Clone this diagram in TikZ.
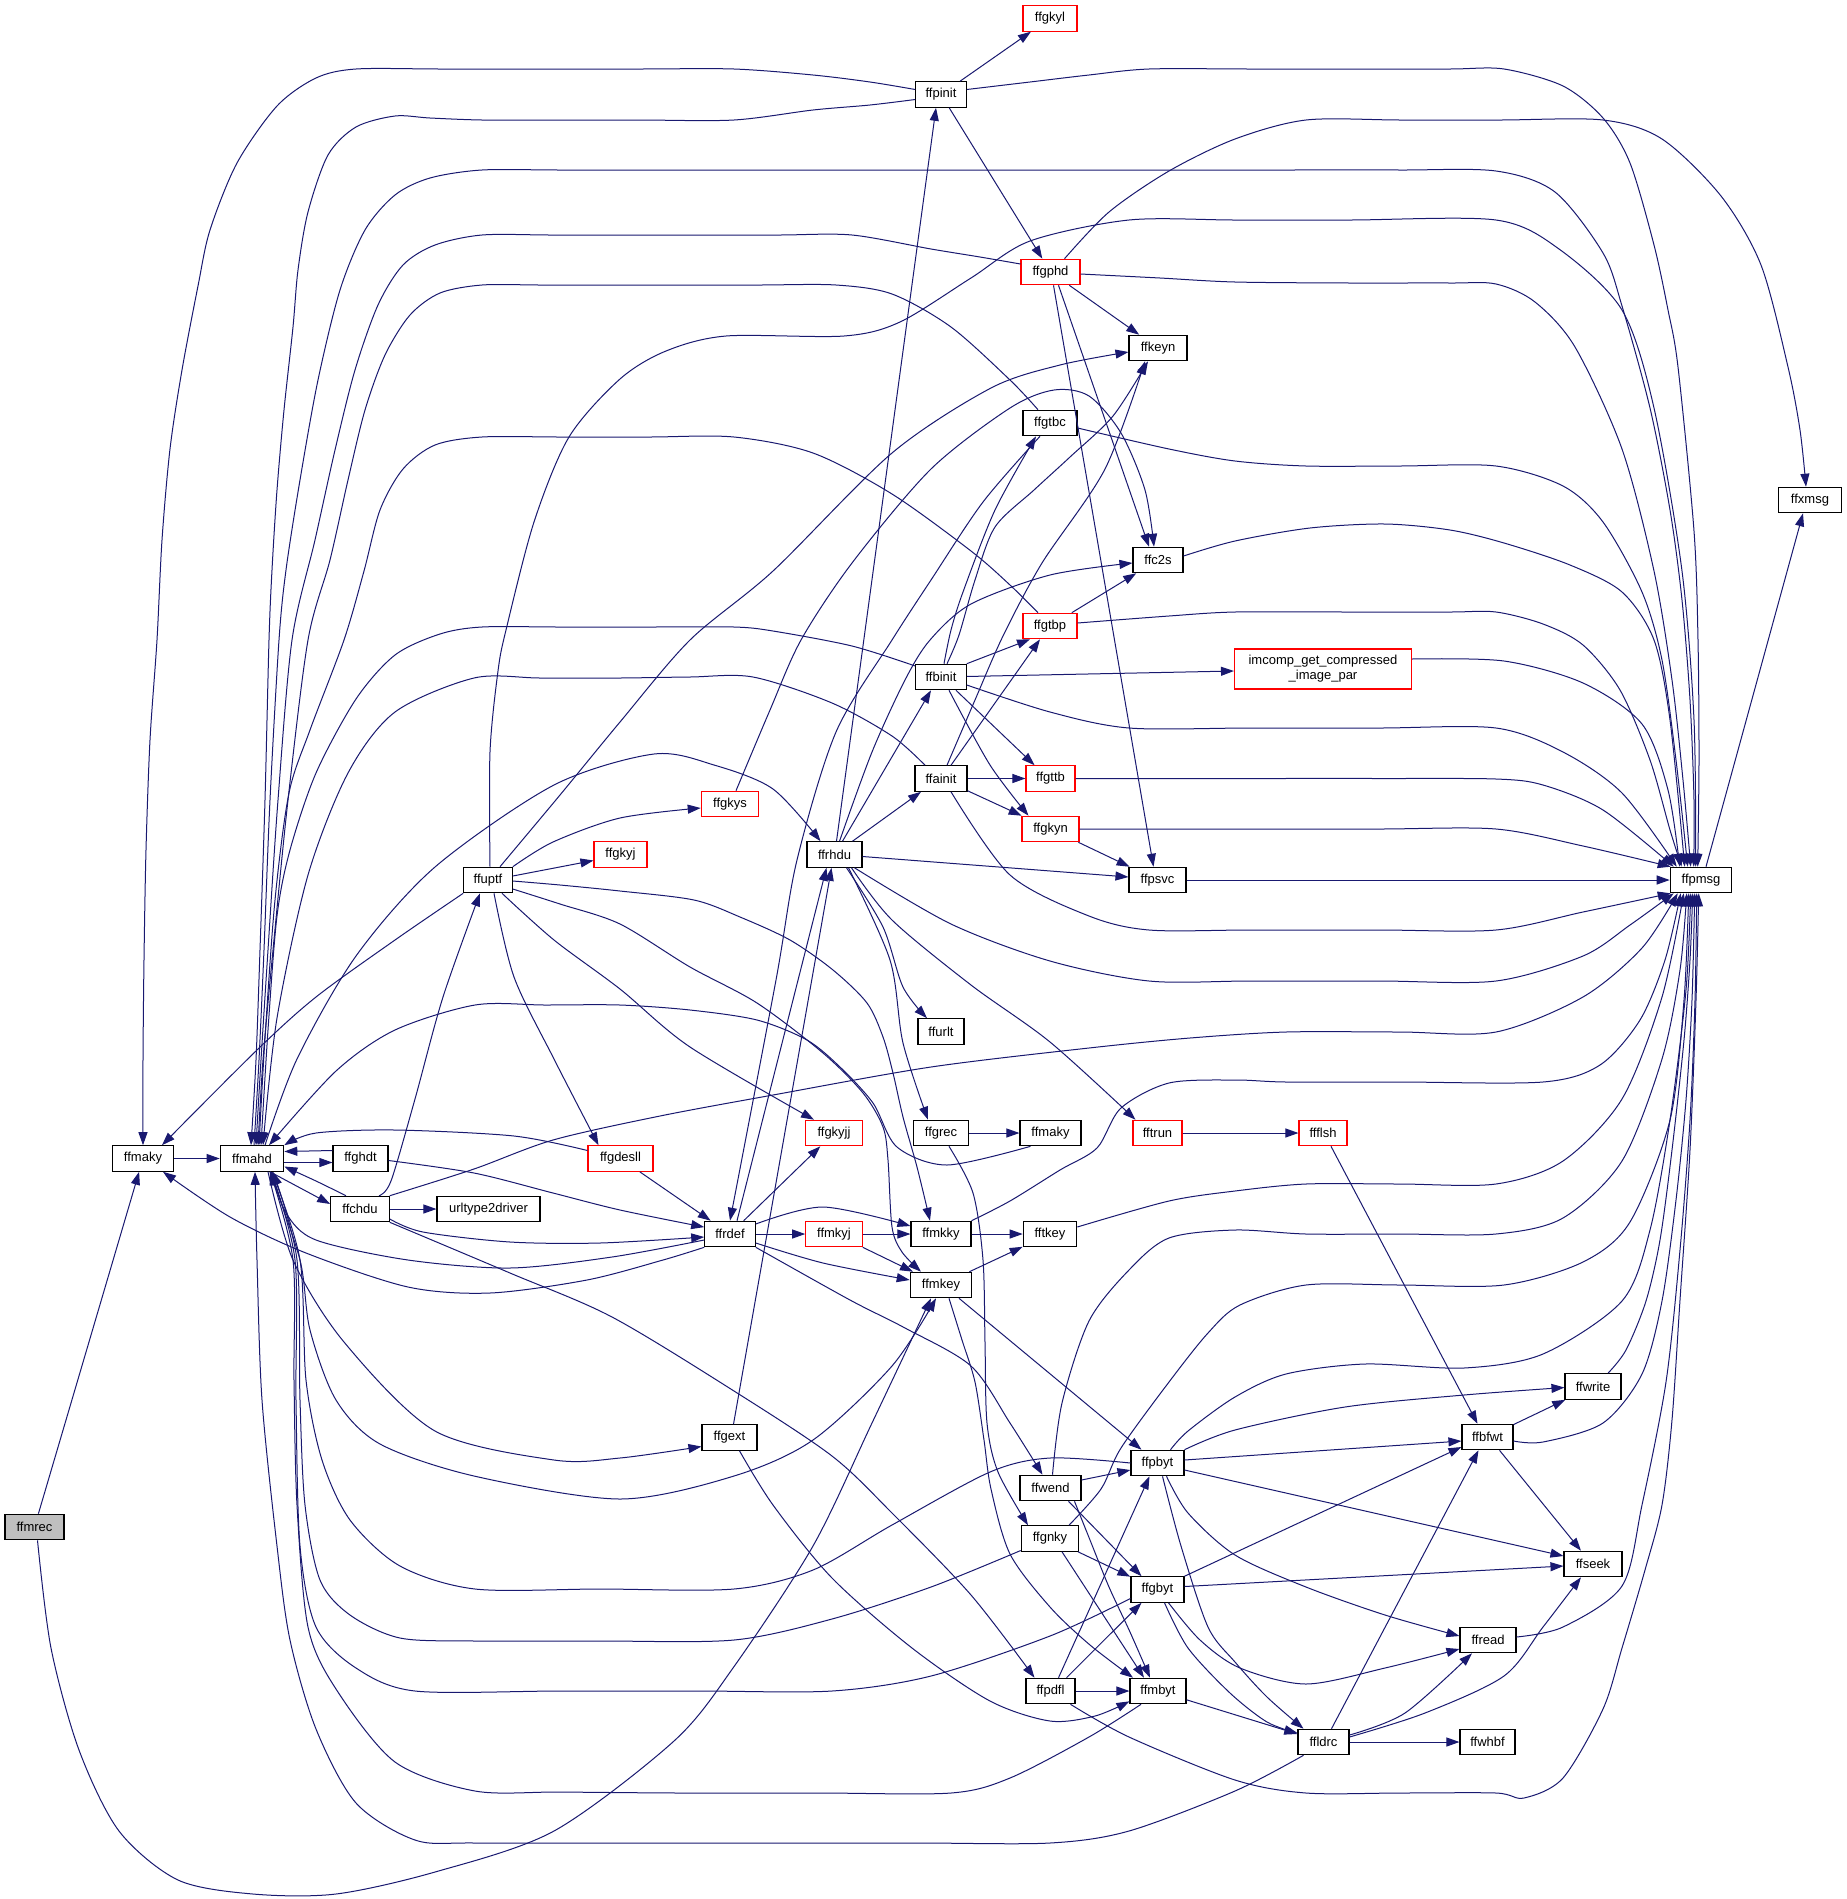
\documentclass[tikz,border=0pt]{standalone}
\usepackage{fontspec}
\setmainfont{Liberation Sans}[Ligatures=CommonOff]
\usetikzlibrary{arrows.meta}
\definecolor{edgec}{HTML}{191970}
\definecolor{nred}{HTML}{FF0000}
\definecolor{ngray}{HTML}{BFBFBF}
\tikzset{
  box/.style={draw=black, line width=1.1pt, fill=white, minimum height=25.5pt, inner sep=0pt, font=\fontsize{13pt}{15pt}\selectfont, text=black},
  rbox/.style={box, draw=nred},
  gbox/.style={box, fill=ngray},
  e/.style={draw=edgec, line width=1.0pt, -{Triangle[length=13pt,width=9pt]}}
}
\newcommand{\edgeP}[1]{\draw[e] plot[smooth, tension=0.5] coordinates {#1};}
\begin{document}
\begin{tikzpicture}[x=1pt,y=1pt]
\fill[white] (0,0) rectangle (1847,-1899);
\useasboundingbox (0,0) rectangle (1847,-1899);
% nodes
\node[gbox, minimum width=59pt] (ffmrec) at (34.5,-1527) {ffmrec};
\node[box, minimum width=61.5pt] (ffmaky) at (143,-1158.5) {ffmaky};
\node[box, minimum width=63.5pt] (ffmahd) at (252,-1158.5) {ffmahd};
\node[box, minimum width=55pt] (ffghdt) at (360.5,-1158.5) {ffghdt};
\node[box, minimum width=58.5pt] (ffchdu) at (360,-1209) {ffchdu};
\node[box, minimum width=103pt] (urltype2driver) at (488.5,-1209) {urltype2driver};
\node[box, minimum width=48.5pt] (ffuptf) at (488,-880) {ffuptf};
\node[rbox, minimum width=65pt] (ffgdesll) at (620.5,-1158.5) {ffgdesll};
\node[rbox, minimum width=53pt] (ffgkyj) at (620.5,-854.5) {ffgkyj};
\node[box, minimum width=50.5pt] (ffrdef) at (730,-1234) {ffrdef};
\node[rbox, minimum width=57.5pt] (ffgkys) at (730,-804) {ffgkys};
\node[box, minimum width=55pt] (ffgext) at (729.5,-1437.5) {ffgext};
\node[box, minimum width=55pt] (ffrhdu) at (834.5,-854.5) {ffrhdu};
\node[rbox, minimum width=56.5pt] (ffgkyjj) at (834,-1133) {ffgkyjj};
\node[rbox, minimum width=56.5pt] (ffmkyj) at (834,-1234) {ffmkyj};
\node[box, minimum width=50.5pt] (ffpinit) at (941,-94.5) {ffpinit};
\node[box, minimum width=50.5pt] (ffbinit) at (941,-677) {ffbinit};
\node[box, minimum width=52pt] (ffainit) at (941,-778.5) {ffainit};
\node[box, minimum width=46pt] (ffurlt) at (941,-1031.5) {ffurlt};
\node[box, minimum width=54.5pt] (ffgrec) at (941,-1133) {ffgrec};
\node[box, minimum width=60pt] (ffmkky) at (941,-1234) {ffmkky};
\node[box, minimum width=61.5pt] (ffmkey) at (941,-1285) {ffmkey};
\node[rbox, minimum width=54pt] (ffgkyl) at (1050,-18.4) {ffgkyl};
\node[rbox, minimum width=59pt] (ffgphd) at (1050.5,-272) {ffgphd};
\node[box, minimum width=54pt] (ffgtbc) at (1050,-423) {ffgtbc};
\node[rbox, minimum width=54pt] (ffgtbp) at (1050,-626) {ffgtbp};
\node[rbox, minimum width=49pt] (ffgttb) at (1050.5,-778.5) {ffgttb};
\node[rbox, minimum width=57pt] (ffgkyn) at (1050.5,-829) {ffgkyn};
\node[box, minimum width=61pt] (ffmakyB) at (1050.5,-1133) {ffmaky};
\node[box, minimum width=53.5pt] (fftkey) at (1050,-1234) {fftkey};
\node[box, minimum width=61pt] (ffwend) at (1050.5,-1488) {ffwend};
\node[box, minimum width=57.5pt] (ffgnky) at (1050,-1538.5) {ffgnky};
\node[box, minimum width=49pt] (ffpdfl) at (1050.5,-1691) {ffpdfl};
\node[box, minimum width=58pt] (ffkeyn) at (1158,-348) {ffkeyn};
\node[box, minimum width=50pt] (ffc2s) at (1158,-560) {ffc2s};
\node[box, minimum width=57pt] (ffpsvc) at (1157.5,-880) {ffpsvc};
\node[rbox, minimum width=49pt] (fftrun) at (1157.5,-1133) {fftrun};
\node[box, minimum width=53pt] (ffpbyt) at (1157.5,-1463) {ffpbyt};
\node[box, minimum width=53pt] (ffgbyt) at (1157.5,-1589.5) {ffgbyt};
\node[box, minimum width=56pt] (ffmbyt) at (1158,-1691) {ffmbyt};
\node[rbox, minimum width=177pt, minimum height=40pt, align=center] (imcomp) at (1323,-669) {imcomp\_get\_compressed\\\_image\_par};
\node[rbox, minimum width=48pt] (ffflsh) at (1323,-1133) {ffflsh};
\node[box, minimum width=51pt] (ffldrc) at (1323.5,-1742) {ffldrc};
\node[box, minimum width=51pt] (ffbfwt) at (1487.5,-1437) {ffbfwt};
\node[box, minimum width=56pt] (ffread) at (1488,-1640) {ffread};
\node[box, minimum width=55pt] (ffwhbf) at (1487.5,-1742) {ffwhbf};
\node[box, minimum width=56pt] (ffwrite) at (1593,-1386.5) {ffwrite};
\node[box, minimum width=58pt] (ffseek) at (1593,-1564) {ffseek};
\node[box, minimum width=61.5pt] (ffpmsg) at (1701,-880) {ffpmsg};
\node[box, minimum width=62.5pt] (ffxmsg) at (1810,-500) {ffxmsg};

% ---- edges ----
% ffmrec
\draw[e] (ffmrec) -- (ffmaky);
\edgeP{([xshift=3pt]ffmrec.south) (51,-1648) (79,-1750) (119,-1831) (178,-1880) (253,-1894) (336,-1894) (435,-1872) (554,-1831) (674,-1741) (733,-1668) (813,-1546) (872,-1423) ([xshift=-10pt]ffmkey.south)}
\draw[e] (ffmaky) -- (ffmahd);
% ffmahd / ffghdt / ffchdu
\draw[e] ([yshift=-4pt]ffmahd.east) -- ([yshift=-4pt]ffghdt.west);
\draw[e] ([yshift=8pt]ffghdt.west) -- ([yshift=7pt]ffmahd.east);
\draw[e] ([xshift=18pt]ffmahd.south) -- ([yshift=5pt]ffchdu.west);
\edgeP{([xshift=-14pt]ffchdu.north) (316,-1181) ([yshift=-8pt]ffmahd.east)}
\draw[e] (ffchdu) -- (urltype2driver);
\edgeP{([xshift=19pt]ffchdu.north) (391,-1181) (415,-1099) (443,-997) ([xshift=-8pt]ffuptf.south)}
\edgeP{([yshift=-10pt]ffchdu.east) (423,-1232) (510,-1242) (600,-1243) ([yshift=-3pt]ffrdef.west)}
\edgeP{(ffchdu.north east) (474,-1169) (553,-1140) (660,-1116) (773,-1095) (931,-1067) (1089,-1048) (1190,-1038) (1286,-1032) (1400,-1032) (1496,-1032) (1583,-997) (1642,-948) ([xshift=8pt]ffpmsg.south west)}
\edgeP{(ffchdu.south east) (510,-1273) (612,-1317) (734,-1391) (832,-1456) (892,-1513) (971,-1595) ([xshift=-16pt]ffpdfl.north)}
\edgeP{([yshift=-2pt]ffghdt.east) (474,-1173) (553,-1193) (620,-1210) (ffrdef.165)}
% ffgdesll
\edgeP{([yshift=8pt]ffgdesll.west) (514,-1136) (395,-1130) (316,-1133) (ffmahd.north east)}
\draw[e] (ffgdesll) -- (ffrdef);
% ffrdef
\edgeP{([yshift=-6pt]ffrdef.west) (612,-1257) (510,-1268) (408,-1260) (316,-1240) (286,-1213) ([xshift=20pt]ffmahd.south)}
\edgeP{(ffrdef.south west) (663,-1260) (587,-1280) (490,-1293) (408,-1287) (306,-1253) (230,-1217) ([xshift=20pt]ffmaky.south)}
\draw[e] ([xshift=7pt]ffrdef.north) -- ([xshift=-8pt]ffrhdu.south);
\draw[e] ([xshift=4pt]ffgext.north) -- ([xshift=-3pt]ffrhdu.south);
\edgeP{([xshift=-10pt]ffgtbc.south) (983,-502) (931,-580) (892,-640) (836,-732) (797,-860) (776,-980) (ffrdef.north)}
\draw[e] (ffrdef) -- (ffgkyjj);
\draw[e] (ffrdef) -- (ffmkyj);
\edgeP{([yshift=10pt]ffrdef.east) (823,-1207) ([yshift=8pt]ffmkky.west)}
\edgeP{([yshift=-9pt]ffrdef.east) (823,-1263) ([yshift=5pt]ffmkey.west)}
\edgeP{(ffrdef.south east) (850,-1300) (905,-1328) (971,-1366) (1010,-1423) ([xshift=-8pt]ffwend.north)}
% ffgext
\edgeP{([xshift=10pt]ffgext.south) (773,-1505) (832,-1578) (912,-1648) (990,-1701) (1050,-1721) (1095,-1716) ([yshift=3pt]ffmbyt.south west)}
% ffmahd bottom
\edgeP{([xshift=16pt]ffmahd.south) (293,-1260) (344,-1342) (435,-1431) (554,-1460) (620,-1458) ([yshift=-9pt]ffgext.west)}
\edgeP{([xshift=18pt]ffmahd.south) (300,-1260) (310,-1330) (336,-1400) (380,-1444) (474,-1476) (620,-1499) (734,-1476) (813,-1440) (892,-1366) ([xshift=-5pt]ffmkey.south)}
\edgeP{(ffpbyt.west) (1050,-1458) (990,-1472) (892,-1525) (813,-1570) (734,-1589) (600,-1589) (475,-1589) (400,-1566) (350,-1520) (322,-1460) (306,-1380) (300,-1260) ([xshift=20pt]ffmahd.south)}
\edgeP{([yshift=-12pt]ffgnky.west) (931,-1587) (832,-1619) (734,-1640) (600,-1641) (475,-1641) (400,-1638) (350,-1615) (320,-1580) (305,-1505) (300,-1400) (297,-1260) ([xshift=21pt]ffmahd.south)}
\edgeP{([yshift=-9pt]ffgbyt.west) (1050,-1636) (931,-1676) (832,-1691) (700,-1691) (560,-1691) (415,-1691) (356,-1668) (316,-1627) (300,-1546) (296,-1400) (295,-1260) ([xshift=19pt]ffmahd.south)}
\edgeP{([xshift=-17pt]ffmbyt.south) (1089,-1737) (1010,-1778) (951,-1793) (820,-1793) (680,-1793) (560,-1792) (475,-1791) (395,-1762) (336,-1689) (308,-1627) (297,-1505) (294,-1380) (293,-1260) ([xshift=18pt]ffmahd.south)}
\edgeP{([xshift=-20pt]ffldrc.south) (1235,-1791) (1129,-1831) (1050,-1843) (920,-1843) (780,-1843) (640,-1843) (475,-1843) (415,-1840) (356,-1803) (316,-1729) (290,-1640) (277,-1546) (262,-1400) (257,-1260) ([xshift=3pt]ffmahd.south)}
% ffmahd top
\edgeP{([xshift=13pt]ffmahd.north) (297,-1059) (356,-956) (435,-867) (554,-785) (654,-754) (714,-765) (773,-789) ([xshift=-14pt]ffrhdu.north)}
\edgeP{([xshift=-20pt]ffmakyB.south) (947,-1165) (897,-1147) (873,-1103) (840,-1067) (807,-1040) (757,-1020) (690,-1010) (620,-1005) (545,-1005) (475,-1005) (395,-1030) (336,-1071) ([xshift=17pt]ffmahd.north)}
\edgeP{([yshift=5pt]ffpinit.west) (870,-82) (813,-75) (734,-69) (640,-69) (540,-69) (440,-69) (356,-69) (316,-78) (277,-106) (237,-163) (210,-230) (198,-286) (182,-370) (170,-449) (162,-540) (157,-640) (150,-740) (146,-850) (144,-960) (143,-1060) (ffmaky.north)}
\edgeP{([yshift=-5pt]ffpinit.west) (870,-105) (813,-110) (734,-120) (640,-120) (560,-120) (482,-120) (430,-118) (395,-116) (356,-127) (328,-155) (308,-212) (298,-270) (293,-327) (284,-410) (277,-490) (272,-570) (269,-640) (265,-800) (260,-950) (256,-1060) ([xshift=-1pt]ffmahd.north)}
\edgeP{([xshift=2pt]ffmahd.north) (259,-1060) (264,-950) (270,-800) (279,-640) (286,-570) (300,-480) (318,-380) (340,-290) (365,-230) (395,-195) (430,-178) (482,-170) (560,-170) (680,-170) (800,-170) (920,-170) (1040,-170) (1160,-170) (1280,-170) (1400,-170) (1496,-171) (1555,-192) (1603,-253) (1622,-306) (1650,-408) (1670,-510) (1682,-600) (1690,-700) (1694,-800) ([xshift=24pt]ffpmsg.north west)}
\edgeP{([yshift=8pt]ffgphd.west) (980,-257) (931,-249) (852,-235) (780,-235) (700,-235) (620,-235) (550,-235) (482,-235) (435,-245) (403,-265) (378,-305) (355,-370) (335,-450) (315,-540) (292,-640) (278,-800) (268,-950) (261,-1060) ([xshift=4pt]ffmahd.north)}
\edgeP{([xshift=-12pt]ffgtbc.north) (1010,-380) (951,-327) (892,-294) (836,-285) (760,-285) (680,-285) (600,-285) (540,-285) (482,-285) (440,-293) (410,-315) (385,-355) (365,-410) (348,-480) (330,-560) (308,-640) (288,-800) (273,-950) (263,-1060) ([xshift=6pt]ffmahd.north)}
\edgeP{([xshift=-12pt]ffgtbp.north) (1010,-585) (971,-551) (892,-494) (813,-453) (734,-437) (650,-437) (560,-437) (482,-437) (435,-445) (403,-469) (380,-510) (364,-571) (344,-640) (310,-730) (289,-793) (275,-900) (265,-1038) ([xshift=7pt]ffmahd.north)}
\edgeP{([yshift=11pt]ffbinit.west) (852,-646) (773,-631) (734,-627) (650,-627) (560,-627) (482,-627) (440,-634) (395,-655) (356,-699) (316,-773) (290,-850) (277,-916) (268,-1030) ([xshift=9pt]ffmahd.north)}
\edgeP{([xshift=-16pt]ffainit.north) (892,-736) (832,-703) (753,-677) (690,-677) (620,-678) (540,-678) (474,-678) (395,-712) (348,-773) (308,-875) (277,-1018) ([xshift=11pt]ffmahd.north)}
% ffpinit / ffgphd
\draw[e] (ffpinit) -- (ffgkyl);
\draw[e] (ffpinit) -- (ffgphd);
\edgeP{([yshift=5pt]ffpinit.east) (1030,-82) (1089,-75) (1149,-69) (1250,-69) (1350,-69) (1450,-69) (1504,-69) (1563,-86) (1603,-118) (1630,-163) (1654,-245) (1668,-310) (1678,-367) (1694,-531) (1698,-640) (1699,-760) ([xshift=28pt]ffpmsg.north west)}
\edgeP{([xshift=14pt]ffgphd.north) (1109,-212) (1169,-171) (1235,-139) (1306,-120) (1400,-120) (1500,-120) (1603,-120) (1662,-139) (1721,-196) (1761,-265) (1788,-367) (1800,-430) ([xshift=-4pt]ffxmsg.north)}
\edgeP{([yshift=-2pt]ffgphd.east) (1160,-278) (1235,-282) (1350,-283) (1450,-283) (1496,-284) (1535,-302) (1575,-347) (1622,-449) (1654,-571) (1672,-680) (1683,-780) ([xshift=21pt]ffpmsg.north west)}
\draw[e] (ffgphd) -- (ffkeyn);
\draw[e] ([xshift=8pt]ffgphd.south) -- ([xshift=-9pt]ffc2s.north);
\draw[e] ([xshift=3pt]ffgphd.south) -- ([xshift=-4pt]ffpsvc.north);
% ffuptf
\edgeP{([xshift=2pt]ffuptf.north) (490,-752) (498,-671) (506,-630) (534,-522) (569,-437) (620,-379) (666,-351) (726,-336) (844,-336) (900,-322) (971,-278) (1030,-241) (1129,-220) (1235,-220) (1350,-220) (1496,-220) (1559,-249) (1622,-310) (1654,-408) (1682,-571) (1694,-720) ([xshift=26pt]ffpmsg.north west)}
\edgeP{(ffuptf.south west) (395,-940) (316,-997) (257,-1050) ([xshift=19pt]ffmaky.north)}
\draw[e] ([yshift=4pt]ffuptf.east) -- ([yshift=-6pt]ffgkyj.west);
\edgeP{(ffuptf.north east) (553,-842) (620,-818) ([yshift=-4pt]ffgkys.west)}
\edgeP{([xshift=12pt]ffuptf.north) (560,-795) (620,-722) (690,-640) (773,-571) (892,-453) (991,-388) (1060,-365) ([yshift=-4pt]ffkeyn.west)}
\edgeP{([yshift=-1pt]ffuptf.east) (560,-885) (620,-891) (694,-900) (740,-917) (790,-940) (833,-970) (867,-1003) (883,-1037) (893,-1073) (903,-1117) (917,-1167) ([xshift=-11pt]ffmkky.north)}
\edgeP{([yshift=-9pt]ffuptf.east) (560,-904) (620,-924) (690,-967) (757,-1003) (823,-1053) (863,-1093) (883,-1127) (888,-1160) (892,-1227) (902,-1252) ([xshift=-20pt]ffmkey.north)}
\edgeP{([xshift=14pt]ffuptf.south) (554,-940) (620,-989) (690,-1047) ([xshift=-20pt]ffgkyjj.north)}
\edgeP{([xshift=6pt]ffuptf.south) (514,-977) (554,-1059) ([xshift=-22pt]ffgdesll.north)}
% ffgkys
\edgeP{([xshift=6pt]ffgkys.north) (770,-710) (801,-640) (852,-563) (931,-469) (1010,-408) (1054,-390) (1089,-396) (1121,-433) (1145,-490) ([xshift=-4pt]ffc2s.north)}
% ffrhdu
\draw[e] ([xshift=2pt]ffrhdu.north) -- ([xshift=-5pt]ffpinit.south);
\draw[e] ([xshift=8pt]ffrhdu.north) -- ([xshift=-10pt]ffbinit.south);
\draw[e] ([xshift=18pt]ffrhdu.north) -- ([xshift=-20pt]ffainit.south);
\draw[e] ([yshift=-2pt]ffrhdu.east) -- ([yshift=3pt]ffpsvc.west);
\edgeP{([xshift=5pt]ffrhdu.north) (872,-752) (905,-680) (930,-640) (971,-604) (1050,-575) ([yshift=-3pt]ffc2s.west)}
\edgeP{([xshift=20pt]ffrhdu.south) (951,-924) (1050,-961) (1149,-981) (1250,-981) (1380,-981) (1496,-981) (1583,-956) (1630,-925) ([xshift=4pt]ffpmsg.south west)}
\edgeP{([xshift=12pt]ffrhdu.south) (883,-927) (903,-987) ([xshift=-14pt]ffurlt.north)}
\edgeP{([xshift=14pt]ffrhdu.south) (890,-960) (903,-1043) ([xshift=-13pt]ffgrec.north)}
\edgeP{([xshift=17pt]ffrhdu.south) (892,-920) (971,-985) (1050,-1042) ([xshift=-22pt]fftrun.north)}
% ffbinit
\draw[e] (ffbinit.north east) -- ([xshift=-20pt]ffgtbp.south);
\draw[e] (ffbinit) -- ([yshift=-2pt]imcomp.west);
\edgeP{([yshift=-8pt]ffbinit.east) (1050,-712) (1129,-728) (1250,-728) (1380,-728) (1496,-728) (1563,-752) (1622,-793) ([xshift=7pt]ffpmsg.north west)}
\draw[e] ([xshift=15pt]ffbinit.south) -- ([xshift=-16pt]ffgttb.north);
\edgeP{([xshift=8pt]ffbinit.south) (990,-765) ([xshift=-22pt]ffgkyn.north)}
\edgeP{([xshift=3pt]ffbinit.north) (951,-630) (963,-592) (995,-510) ([xshift=-14pt]ffgtbc.south)}
\edgeP{([xshift=6pt]ffbinit.north) (959,-635) (975,-580) (995,-527) (1034,-490) (1070,-457) (1113,-416) ([xshift=-10pt]ffkeyn.south)}
% ffainit
\draw[e] (ffainit) -- (ffgttb);
\draw[e] (ffainit) -- (ffgkyn);
\edgeP{([xshift=6pt]ffainit.north) (975,-700) (1003,-636) (1042,-563) (1105,-469) ([xshift=-13pt]ffkeyn.south)}
\draw[e] ([xshift=10pt]ffainit.north) -- ([xshift=-10pt]ffgtbp.south);
\edgeP{([xshift=10pt]ffainit.south) (1010,-875) (1089,-916) (1149,-930) (1250,-930) (1380,-930) (1496,-930) (1583,-912) ([xshift=1pt]ffpmsg.south west)}
% right-side to ffpmsg (top)
\edgeP{([yshift=-5pt]ffgtbc.east) (1169,-449) (1235,-461) (1306,-466) (1400,-466) (1496,-466) (1563,-486) (1603,-522) (1642,-592) (1662,-660) (1676,-760) ([xshift=18pt]ffpmsg.north west)}
\edgeP{([yshift=4pt]ffc2s.east) (1235,-541) (1310,-528) (1385,-524) (1450,-530) (1504,-543) (1570,-565) (1622,-592) (1654,-640) (1670,-720) ([xshift=15pt]ffpmsg.north west)}
\edgeP{([yshift=3pt]ffgtbp.east) (1169,-616) (1235,-612) (1350,-612) (1450,-612) (1496,-612) (1543,-624) (1583,-645) (1620,-690) (1650,-760) (1670,-830) ([xshift=12pt]ffpmsg.north west)}
\draw[e] (ffgtbp) -- (ffc2s);
\edgeP{([yshift=10pt]imcomp.east) (1504,-661) (1583,-683) (1642,-724) (1668,-790) ([xshift=10pt]ffpmsg.north west)}
\edgeP{(ffgttb.east) (1150,-778.5) (1250,-778.5) (1380,-778.5) (1496,-779) (1543,-785) (1603,-810) ([xshift=4pt]ffpmsg.north west)}
\edgeP{(ffgkyn.east) (1150,-829) (1250,-829) (1380,-829) (1496,-829) (1583,-846) ([xshift=1pt]ffpmsg.north west)}
\draw[e] (ffgkyn) -- (ffpsvc);
\draw[e] (ffpsvc) -- (ffpmsg);
\draw[e] ([xshift=5pt]ffpmsg.north) -- ([xshift=-7pt]ffxmsg.south);
% ffmkyj / ffmkky / ffmkey / ffgrec / fftrun
\draw[e] (ffmkyj.south east) -- ([xshift=-28pt]ffmkey.north);
\draw[e] (ffmkyj) -- (ffmkky);
\draw[e] (ffmkky) -- (fftkey);
\edgeP{(ffmkky.north east) (1010,-1201) (1060,-1170) (1097,-1148) (1121,-1108) (1169,-1083) (1235,-1080) (1286,-1082) (1400,-1082) (1543,-1082) (1600,-1065) (1640,-1020) (1665,-960) ([xshift=11pt]ffpmsg.south west)}
\edgeP{([yshift=7pt]fftkey.east) (1169,-1201) (1235,-1191) (1306,-1184) (1400,-1184) (1496,-1184) (1563,-1161) (1622,-1099) (1662,-997) ([xshift=14pt]ffpmsg.south west)}
\draw[e] (ffmkey) -- (fftkey);
\draw[e] ([xshift=18pt]ffmkey.south) -- ([xshift=-16pt]ffpbyt.north);
\edgeP{([xshift=8pt]ffmkey.south) (962,-1340) (975,-1382) (984,-1440) (991,-1489) (1010,-1554) (1050,-1607) (1090,-1645) ([xshift=-25pt]ffmbyt.north)}
\draw[e] (ffgrec) -- (ffmakyB);
\edgeP{([xshift=8pt]ffgrec.south) (973,-1193) (983,-1260) (985,-1342) (987,-1423) (998,-1472) ([xshift=-22pt]ffgnky.north)}
\draw[e] (fftrun) -- (ffflsh);
\draw[e] ([xshift=8pt]ffflsh.south) -- ([xshift=-10pt]ffbfwt.north);
% ffwend / ffgnky / ffpdfl
\draw[e] ([yshift=8pt]ffwend.east) -- ([yshift=-7pt]ffpbyt.west);
\draw[e] ([xshift=18pt]ffwend.south) -- ([xshift=-16pt]ffgbyt.north);
\edgeP{([xshift=24pt]ffwend.south) (1090,-1540) (1109,-1587) (1130,-1632) ([xshift=-8pt]ffmbyt.north)}
\edgeP{([xshift=2pt]ffwend.north) (1062,-1403) (1089,-1321) (1129,-1270) (1169,-1238) (1235,-1230) (1306,-1234) (1400,-1234) (1496,-1234) (1563,-1218) (1622,-1161) (1662,-1059) (1680,-970) ([xshift=17pt]ffpmsg.south west)}
\draw[e] (ffgnky) -- (ffgbyt);
\draw[e] ([xshift=12pt]ffgnky.south) -- ([xshift=-14pt]ffmbyt.north);
\edgeP{([xshift=19pt]ffgnky.north) (1101,-1489) (1121,-1448) (1169,-1382) (1208,-1333) (1240,-1305) (1306,-1285) (1400,-1285) (1504,-1285) (1583,-1262) (1630,-1222) (1670,-1120) (1684,-1000) ([xshift=19pt]ffpmsg.south west)}
\draw[e] (ffpdfl) -- (ffmbyt);
\draw[e] ([xshift=8pt]ffpdfl.north) -- ([xshift=-8pt]ffpbyt.south);
\draw[e] ([xshift=16pt]ffpdfl.north) -- ([xshift=-16pt]ffgbyt.south);
\edgeP{([xshift=20pt]ffpdfl.south) (1129,-1737) (1235,-1780) (1306,-1793) (1400,-1793) (1496,-1793) (1524,-1798) (1563,-1778) (1603,-1709) (1622,-1648) (1645,-1570) (1662,-1505) (1672,-1420) (1680,-1300) (1690,-1150) (1696,-1000) ([xshift=29pt]ffpmsg.south west)}
\draw[e] (ffmbyt) -- (ffldrc);
% ffpbyt
\edgeP{([xshift=13pt]ffpbyt.north) (1188,-1431) (1235,-1397) (1286,-1374) (1365,-1364) (1464,-1368) (1543,-1354) (1622,-1301) (1650,-1230) (1670,-1120) (1686,-990) ([xshift=21pt]ffpmsg.south west)}
\edgeP{(ffpbyt.north east) (1235,-1430) (1345,-1407) (1464,-1395) ([yshift=-1pt]ffwrite.west)}
\draw[e] ([yshift=3pt]ffpbyt.east) -- ([yshift=-4pt]ffbfwt.west);
\draw[e] ([yshift=-7pt]ffpbyt.east) -- ([yshift=8pt]ffseek.west);
\edgeP{([xshift=9pt]ffpbyt.south) (1188,-1513) (1235,-1555) (1306,-1587) (1385,-1615) ([yshift=4pt]ffread.west)}
\edgeP{([xshift=5pt]ffpbyt.south) (1181,-1546) (1208,-1627) (1235,-1662) (1267,-1697) ([xshift=-20pt]ffldrc.north)}
% ffgbyt
\draw[e] (ffgbyt.north east) -- ([yshift=-10pt]ffbfwt.west);
\draw[e] ([yshift=3pt]ffgbyt.east) -- ([yshift=-2pt]ffseek.west);
\edgeP{([xshift=11pt]ffgbyt.south) (1200,-1640) (1240,-1668) (1306,-1684) (1385,-1668) ([yshift=-9pt]ffread.west)}
\edgeP{([xshift=7pt]ffgbyt.south) (1188,-1648) (1230,-1693) (1267,-1722) ([yshift=9pt]ffldrc.west)}
% ffldrc
\draw[e] ([xshift=8pt]ffldrc.north) -- ([xshift=-9pt]ffbfwt.south);
\edgeP{([yshift=7pt]ffldrc.east) (1405,-1713) ([xshift=-16pt]ffread.south)}
\edgeP{([yshift=5pt]ffldrc.east) (1425,-1713) (1504,-1676) (1543,-1627) ([xshift=-12pt]ffseek.south)}
\draw[e] (ffldrc) -- (ffwhbf);
% ffbfwt / ffwrite / ffread
\draw[e] (ffbfwt) -- (ffwrite);
\draw[e] ([xshift=12pt]ffbfwt.south) -- ([xshift=-12pt]ffseek.north);
\edgeP{([yshift=-4pt]ffbfwt.east) (1543,-1442) (1603,-1423) (1642,-1374) (1662,-1301) (1676,-1200) (1686,-1100) (1692,-1000) ([xshift=25pt]ffpmsg.south west)}
\edgeP{([xshift=15pt]ffwrite.north) (1626,-1350) (1646,-1301) (1660,-1240) (1672,-1150) (1684,-1040) (1690,-960) ([xshift=23pt]ffpmsg.south west)}
\edgeP{([yshift=3pt]ffread.east) (1563,-1627) (1622,-1586) (1642,-1505) (1666,-1382) (1680,-1250) (1690,-1120) (1695,-1000) ([xshift=27pt]ffpmsg.south west)}
\end{tikzpicture}
\end{document}
